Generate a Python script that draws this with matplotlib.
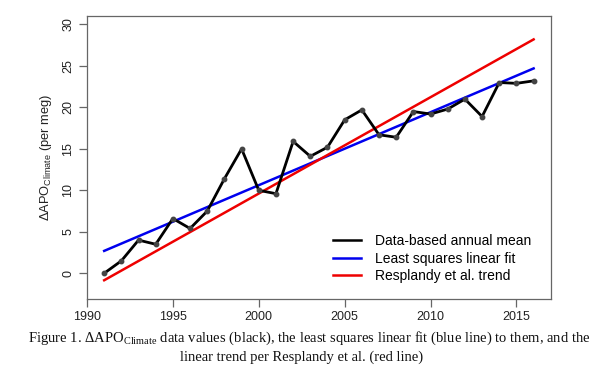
import matplotlib
matplotlib.use("Agg")
import matplotlib.pyplot as plt
from matplotlib.lines import Line2D

years = list(range(1991, 2017))
apo = [0.0, 1.5, 4.0, 3.5, 6.6, 5.4, 7.5, 11.4, 15.0, 10.0, 9.6, 15.9, 14.1,
       15.2, 18.5, 19.7, 16.7, 16.4, 19.5, 19.2, 19.8, 21.0, 18.9, 23.0, 22.9, 23.2]
fit_years = [1991, 2016]
fit_vals = [2.7, 24.7]
resp_years = [1991, 2016]
resp_vals = [-0.84, 28.2]
xticks = [1990, 1995, 2000, 2005, 2010, 2015]
yticks = [0, 5, 10, 15, 20, 25, 30]
labels = ['Data-based annual mean', 'Least squares linear fit', 'Resplandy et al. trend']
colors = ['black', '#0000EE', '#EE0000']

plt.rcParams['font.family'] = ['Liberation Sans', 'DejaVu Sans']
fig = plt.figure(figsize=(6, 3.76), dpi=100)
ax = fig.add_axes([0.145, 0.2048, 0.773, 0.7522])

ax.plot(years, apo, color=colors[0], lw=2.0, marker='o', ms=3.2,
        mfc='#444444', mec='#444444', zorder=3)
ax.plot(fit_years, fit_vals, color=colors[1], lw=1.8, zorder=2)
ax.plot(resp_years, resp_vals, color=colors[2], lw=1.8, zorder=2)

ax.set_xlim(1990, 2017)
ax.set_ylim(-3.1, 31.0)
ax.set_xticks(xticks)
ax.set_yticks(yticks)
ax.set_yticklabels([str(v) for v in yticks], rotation=90, va='center')
for s in ax.spines.values():
    s.set_color('#666666')
    s.set_linewidth(0.9)
ax.tick_params(axis='both', colors='#666666', labelcolor='#222222', length=6,
               width=0.9, labelsize=9, pad=3)

ax.set_ylabel('ΔAPO' + r'$_{\mathregular{Climate}}$' + ' (per meg)', fontsize=9.3, color='#222222', labelpad=6)

handles = [Line2D([], [], color=c, lw=1.8) for c in colors]
leg = ax.legend(handles, labels, loc='lower right', frameon=False, fontsize=10, handlelength=2.0,
                handletextpad=1.0, labelspacing=0.25, bbox_to_anchor=(0.985, 0.012))

fig.text(0.515, 0.1, 'Figure 1. ΔAPO' + r'$_{\mathregular{Climate}}$' + ' data values (black), the least squares linear fit (blue line) to them, and the',
         ha='center', va='center', fontsize=10.5, family='Liberation Serif', color='#111111')
fig.text(0.502, 0.05, 'linear trend per Resplandy et al. (red line)',
         ha='center', va='center', fontsize=10.5, family='Liberation Serif', color='#111111')

fig.savefig('out.png', dpi=100)
